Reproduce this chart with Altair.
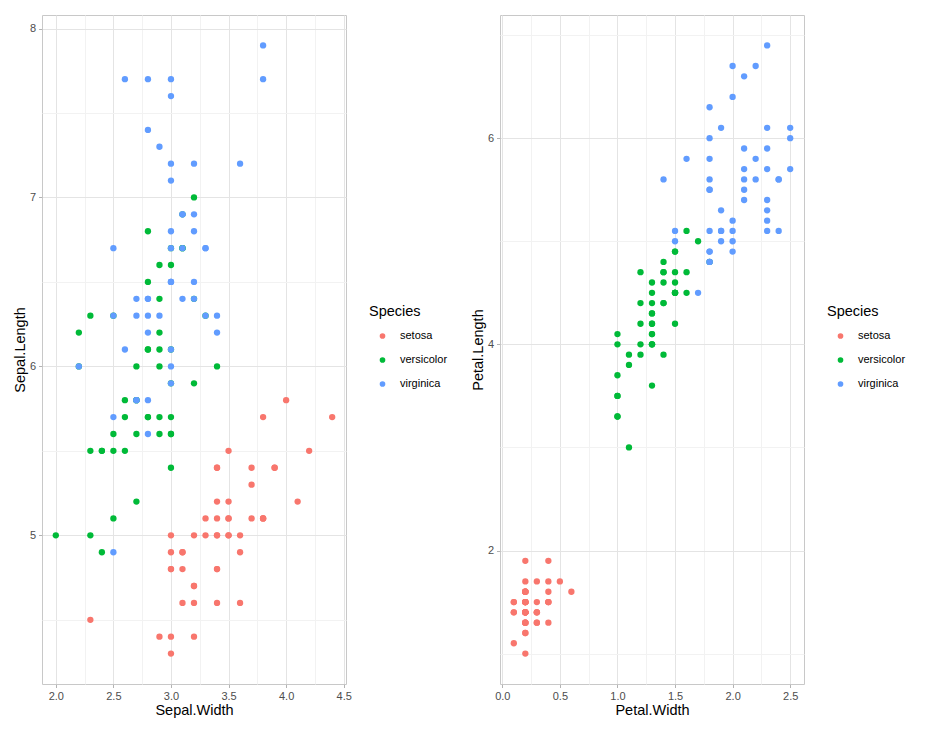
import altair as alt
import pandas as pd

species_names = ["setosa", "versicolor", "virginica"]
species_colors = ["#F8766D", "#00BA38", "#619CFF"]

sepal_length = [
    5.1, 4.9, 4.7, 4.6, 5.0, 5.4, 4.6, 5.0, 4.4, 4.9, 5.4, 4.8, 4.8, 4.3, 5.8, 5.7, 5.4, 5.1, 5.7, 5.1,
    5.4, 5.1, 4.6, 5.1, 4.8, 5.0, 5.0, 5.2, 5.2, 4.7, 4.8, 5.4, 5.2, 5.5, 4.9, 5.0, 5.5, 4.9, 4.4, 5.1,
    5.0, 4.5, 4.4, 5.0, 5.1, 4.8, 5.1, 4.6, 5.3, 5.0,
    7.0, 6.4, 6.9, 5.5, 6.5, 5.7, 6.3, 4.9, 6.6, 5.2, 5.0, 5.9, 6.0, 6.1, 5.6, 6.7, 5.6, 5.8, 6.2, 5.6,
    5.9, 6.1, 6.3, 6.1, 6.4, 6.6, 6.8, 6.7, 6.0, 5.7, 5.5, 5.5, 5.8, 6.0, 5.4, 6.0, 6.7, 6.3, 5.6, 5.5,
    5.5, 6.1, 5.8, 5.0, 5.6, 5.7, 5.7, 6.2, 5.1, 5.7,
    6.3, 5.8, 7.1, 6.3, 6.5, 7.6, 4.9, 7.3, 6.7, 7.2, 6.5, 6.4, 6.8, 5.7, 5.8, 6.4, 6.5, 7.7, 7.7, 6.0,
    6.9, 5.6, 7.7, 6.3, 6.7, 7.2, 6.2, 6.1, 6.4, 7.2, 7.4, 7.9, 6.4, 6.3, 6.1, 7.7, 6.3, 6.4, 6.0, 6.9,
    6.7, 6.9, 5.8, 6.8, 6.7, 6.7, 6.3, 6.5, 6.2, 5.9,
]
sepal_width = [
    3.5, 3.0, 3.2, 3.1, 3.6, 3.9, 3.4, 3.4, 2.9, 3.1, 3.7, 3.4, 3.0, 3.0, 4.0, 4.4, 3.9, 3.5, 3.8, 3.8,
    3.4, 3.7, 3.6, 3.3, 3.4, 3.0, 3.4, 3.5, 3.4, 3.2, 3.1, 3.4, 4.1, 4.2, 3.1, 3.2, 3.5, 3.6, 3.0, 3.4,
    3.5, 2.3, 3.2, 3.5, 3.8, 3.0, 3.8, 3.2, 3.7, 3.3,
    3.2, 3.2, 3.1, 2.3, 2.8, 2.8, 3.3, 2.4, 2.9, 2.7, 2.0, 3.0, 2.2, 2.9, 2.9, 3.1, 3.0, 2.7, 2.2, 2.5,
    3.2, 2.8, 2.5, 2.8, 2.9, 3.0, 2.8, 3.0, 2.9, 2.6, 2.4, 2.4, 2.7, 2.7, 3.0, 3.4, 3.1, 2.3, 3.0, 2.5,
    2.6, 3.0, 2.6, 2.3, 2.7, 3.0, 2.9, 2.9, 2.5, 2.8,
    3.3, 2.7, 3.0, 2.9, 3.0, 3.0, 2.5, 2.9, 2.5, 3.6, 3.2, 2.7, 3.0, 2.5, 2.8, 3.2, 3.0, 3.8, 2.6, 2.2,
    3.2, 2.8, 2.8, 2.7, 3.3, 3.2, 2.8, 3.0, 2.8, 3.0, 2.8, 3.8, 2.8, 2.8, 2.6, 3.0, 3.4, 3.1, 3.0, 3.1,
    3.1, 3.1, 2.7, 3.2, 3.3, 3.0, 2.5, 3.0, 3.4, 3.0,
]
petal_length = [
    1.4, 1.4, 1.3, 1.5, 1.4, 1.7, 1.4, 1.5, 1.4, 1.5, 1.5, 1.6, 1.4, 1.1, 1.2, 1.5, 1.3, 1.4, 1.7, 1.5,
    1.7, 1.5, 1.0, 1.7, 1.9, 1.6, 1.6, 1.5, 1.4, 1.6, 1.6, 1.5, 1.5, 1.4, 1.5, 1.2, 1.3, 1.4, 1.3, 1.5,
    1.3, 1.3, 1.3, 1.6, 1.9, 1.4, 1.6, 1.4, 1.5, 1.4,
    4.7, 4.5, 4.9, 4.0, 4.6, 4.5, 4.7, 3.3, 4.6, 3.9, 3.5, 4.2, 4.0, 4.7, 3.6, 4.4, 4.5, 4.1, 4.5, 3.9,
    4.8, 4.0, 4.9, 4.7, 4.3, 4.4, 4.8, 5.0, 4.5, 3.5, 3.8, 3.7, 3.9, 5.1, 4.5, 4.5, 4.7, 4.4, 4.1, 4.0,
    4.4, 4.6, 4.0, 3.3, 4.2, 4.2, 4.2, 4.3, 3.0, 4.1,
    6.0, 5.1, 5.9, 5.6, 5.8, 6.6, 4.5, 6.3, 5.8, 6.1, 5.1, 5.3, 5.5, 5.0, 5.1, 5.3, 5.5, 6.7, 6.9, 5.0,
    5.7, 4.9, 6.7, 4.9, 5.7, 6.0, 4.8, 4.9, 5.6, 5.8, 6.1, 6.4, 5.6, 5.1, 5.6, 6.1, 5.6, 5.5, 4.8, 5.4,
    5.6, 5.1, 5.1, 5.9, 5.7, 5.2, 5.0, 5.2, 5.4, 5.1,
]
petal_width = [
    0.2, 0.2, 0.2, 0.2, 0.2, 0.4, 0.3, 0.2, 0.2, 0.1, 0.2, 0.2, 0.1, 0.1, 0.2, 0.4, 0.4, 0.3, 0.3, 0.3,
    0.2, 0.4, 0.2, 0.5, 0.2, 0.2, 0.4, 0.2, 0.2, 0.2, 0.2, 0.4, 0.1, 0.2, 0.2, 0.2, 0.2, 0.1, 0.2, 0.2,
    0.3, 0.3, 0.2, 0.6, 0.4, 0.3, 0.2, 0.2, 0.2, 0.2,
    1.4, 1.5, 1.5, 1.3, 1.5, 1.3, 1.6, 1.0, 1.3, 1.4, 1.0, 1.5, 1.0, 1.4, 1.3, 1.4, 1.5, 1.0, 1.5, 1.1,
    1.8, 1.3, 1.5, 1.2, 1.3, 1.4, 1.4, 1.7, 1.5, 1.0, 1.1, 1.0, 1.2, 1.6, 1.5, 1.6, 1.5, 1.3, 1.3, 1.3,
    1.2, 1.4, 1.2, 1.0, 1.3, 1.2, 1.3, 1.3, 1.1, 1.3,
    2.5, 1.9, 2.1, 1.8, 2.2, 2.1, 1.7, 1.8, 1.8, 2.5, 2.0, 1.9, 2.1, 2.0, 2.4, 2.3, 1.8, 2.2, 2.3, 1.5,
    2.3, 2.0, 2.0, 1.8, 2.1, 1.8, 1.8, 1.8, 2.1, 1.6, 1.9, 2.0, 2.2, 1.5, 1.4, 2.3, 2.4, 1.8, 1.8, 2.1,
    2.4, 2.3, 1.9, 2.3, 2.5, 2.3, 1.9, 2.0, 2.3, 1.8,
]
species = ["setosa"] * 50 + ["versicolor"] * 50 + ["virginica"] * 50

# axis breaks: major (labelled) and minor (grid only)
sepal_width_major = [2.0, 2.5, 3.0, 3.5, 4.0, 4.5]
sepal_width_minor = [2.25, 2.75, 3.25, 3.75, 4.25]
sepal_length_major = [5.0, 6.0, 7.0, 8.0]
sepal_length_minor = [4.5, 5.5, 6.5, 7.5]
petal_width_major = [0.0, 0.5, 1.0, 1.5, 2.0, 2.5]
petal_width_minor = [0.25, 0.75, 1.25, 1.75, 2.25]
petal_length_major = [2.0, 4.0, 6.0]
petal_length_minor = [1.0, 3.0, 5.0, 7.0]

df = pd.DataFrame({
    "SL": sepal_length,
    "SW": sepal_width,
    "PL": petal_length,
    "PW": petal_width,
    "Species": species,
})

MAJOR = "#e4e4e4"
MINOR = "#f2f2f2"


def make_axis(major, minor, fmt):
    arr = "[" + ",".join(repr(float(v)) for v in minor) + "]"
    is_minor = f"indexof({arr}, datum.value) >= 0"
    return alt.Axis(
        values=sorted(major + minor),
        tickCount=200,
        tickMinStep=0.01,
        labelExpr=f"{is_minor} ? '' : format(datum.value, '{fmt}')",
        gridColor={"condition": {"test": is_minor, "value": MINOR}, "value": MAJOR},
        tickOpacity={"condition": {"test": is_minor, "value": 0}, "value": 1},
        grid=True,
    )


def panel(xf, xt, yf, yt, xdom, ydom, xmaj, xmin, ymaj, ymin, xfmt, yfmt):
    return alt.Chart(df).mark_circle(size=40, opacity=1).encode(
        x=alt.X(f"{xf}:Q", title=xt,
                scale=alt.Scale(domain=xdom, nice=False, zero=False),
                axis=make_axis(xmaj, xmin, xfmt)),
        y=alt.Y(f"{yf}:Q", title=yt,
                scale=alt.Scale(domain=ydom, nice=False, zero=False),
                axis=make_axis(ymaj, ymin, yfmt)),
        color=alt.Color("Species:N",
                        scale=alt.Scale(domain=species_names, range=species_colors),
                        legend=alt.Legend(orient="none", legendX=327, legendY=290)),
    ).properties(width=304, height=669)


left = panel("SW", "Sepal.Width", "SL", "Sepal.Length", [1.88, 4.52], [4.12, 8.08],
             sepal_width_major, sepal_width_minor, sepal_length_major, sepal_length_minor,
             ".1f", ".0f")
right = panel("PW", "Petal.Width", "PL", "Petal.Length", [-0.02, 2.62], [0.705, 7.195],
              petal_width_major, petal_width_minor, petal_length_major, petal_length_minor,
              ".1f", ".0f")

chart = alt.hconcat(left, right, spacing=20).resolve_scale(color="independent").properties(
    padding={"left": 11, "top": 14, "right": 5, "bottom": 5}
).configure(
    font="Liberation Sans",
).configure_view(
    stroke="#c8c8c8", strokeWidth=1,
).configure_axis(
    domain=False,
    tickColor="#b3b3b3",
    tickSize=3.5,
    labelColor="#4d4d4d",
    labelFontSize=11,
    labelPadding=3,
    titleFontSize=14.5,
    titleFontWeight="normal",
    titleColor="#000000",
    titlePadding=2,
    gridWidth=1,
).configure_legend(
    titleFontSize=14.5,
    titleFontWeight="normal",
    titleColor="#000000",
    titlePadding=11,
    labelFontSize=11,
    labelColor="#000000",
    labelOffset=12,
    symbolType="circle",
    symbolSize=32,
    symbolStrokeWidth=0,
    symbolOffset=8,
    rowPadding=12,
)

chart.save("out.html", embed_options={"renderer": "svg", "actions": False})
